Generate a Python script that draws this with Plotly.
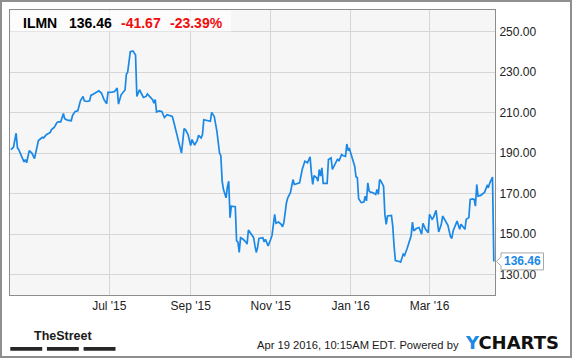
import plotly.graph_objects as go

ticker = "ILMN"
dates = [
    "2015-04-17", "2015-04-19", "2015-04-21", "2015-04-22", "2015-04-23", "2015-04-25", "2015-04-27",
    "2015-04-28", "2015-04-29", "2015-05-01", "2015-05-03", "2015-05-05", "2015-05-06", "2015-05-08",
    "2015-05-11", "2015-05-12", "2015-05-14", "2015-05-17", "2015-05-18", "2015-05-20", "2015-05-22",
    "2015-05-23", "2015-05-25", "2015-05-27", "2015-05-28", "2015-05-30", "2015-06-02", "2015-06-03",
    "2015-06-05", "2015-06-07", "2015-06-09", "2015-06-11", "2015-06-12", "2015-06-14", "2015-06-16",
    "2015-06-17", "2015-06-19", "2015-06-21", "2015-06-23", "2015-06-25", "2015-06-27", "2015-06-29",
    "2015-06-30", "2015-07-03", "2015-07-05", "2015-07-07", "2015-07-08", "2015-07-10", "2015-07-12",
    "2015-07-13", "2015-07-14", "2015-07-15", "2015-07-17", "2015-07-19", "2015-07-21", "2015-07-22",
    "2015-07-24", "2015-07-26", "2015-07-27", "2015-07-29", "2015-07-30", "2015-08-01", "2015-08-03",
    "2015-08-04", "2015-08-05", "2015-08-06", "2015-08-08", "2015-08-10", "2015-08-11", "2015-08-12",
    "2015-08-14", "2015-08-16", "2015-08-18", "2015-08-19", "2015-08-21", "2015-08-22", "2015-08-24",
    "2015-08-25", "2015-08-27", "2015-08-28", "2015-08-30", "2015-09-01", "2015-09-02", "2015-09-04",
    "2015-09-06", "2015-09-07", "2015-09-09", "2015-09-10", "2015-09-11", "2015-09-14", "2015-09-16",
    "2015-09-17", "2015-09-19", "2015-09-21", "2015-09-22", "2015-09-23", "2015-09-24", "2015-09-25",
    "2015-09-26", "2015-09-28", "2015-09-29", "2015-09-30", "2015-10-01", "2015-10-02", "2015-10-05",
    "2015-10-06", "2015-10-07", "2015-10-08", "2015-10-09", "2015-10-11", "2015-10-13", "2015-10-14",
    "2015-10-15", "2015-10-17", "2015-10-19", "2015-10-20", "2015-10-21", "2015-10-22", "2015-10-23",
    "2015-10-26", "2015-10-27", "2015-10-28", "2015-10-30", "2015-11-01", "2015-11-02", "2015-11-04",
    "2015-11-05", "2015-11-07", "2015-11-09", "2015-11-10", "2015-11-11", "2015-11-13", "2015-11-14",
    "2015-11-16", "2015-11-17", "2015-11-18", "2015-11-19", "2015-11-23", "2015-11-25", "2015-11-27",
    "2015-11-29", "2015-12-01", "2015-12-02", "2015-12-03", "2015-12-04", "2015-12-06", "2015-12-07",
    "2015-12-08", "2015-12-09", "2015-12-10", "2015-12-11", "2015-12-14", "2015-12-15", "2015-12-17",
    "2015-12-18", "2015-12-20", "2015-12-22", "2015-12-23", "2015-12-25", "2015-12-26", "2015-12-28",
    "2015-12-29", "2015-12-30", "2015-12-31", "2016-01-02", "2016-01-04", "2016-01-05", "2016-01-06",
    "2016-01-07", "2016-01-09", "2016-01-11", "2016-01-12", "2016-01-13", "2016-01-14", "2016-01-15",
    "2016-01-16", "2016-01-18", "2016-01-20", "2016-01-21", "2016-01-22", "2016-01-23", "2016-01-24",
    "2016-01-26", "2016-01-27", "2016-01-28", "2016-01-29", "2016-02-01", "2016-02-02", "2016-02-03",
    "2016-02-04", "2016-02-07", "2016-02-08", "2016-02-10", "2016-02-11", "2016-02-13", "2016-02-15",
    "2016-02-16", "2016-02-17", "2016-02-18", "2016-02-20", "2016-02-22", "2016-02-24", "2016-02-25",
    "2016-02-27", "2016-02-29", "2016-03-01", "2016-03-03", "2016-03-04", "2016-03-06", "2016-03-08",
    "2016-03-10", "2016-03-11", "2016-03-14", "2016-03-15", "2016-03-17", "2016-03-18", "2016-03-19",
    "2016-03-21", "2016-03-22", "2016-03-24", "2016-03-25", "2016-03-27", "2016-03-28", "2016-03-29",
    "2016-03-31", "2016-04-01", "2016-04-03", "2016-04-04", "2016-04-05", "2016-04-06", "2016-04-07",
    "2016-04-09", "2016-04-11", "2016-04-12", "2016-04-14", "2016-04-15", "2016-04-16", "2016-04-18",
    "2016-04-19",
]
prices = [
    191.7, 192.9, 199.8, 192.6, 191.7, 188.4, 185.7,
    186.8, 185.2, 191.2, 190.0, 187.3, 190.9, 196.2,
    197.8, 197.5, 199.1, 200.2, 201.6, 202.7, 204.9,
    205.4, 205.4, 209.6, 207.0, 206.3, 206.0, 208.6,
    210.6, 210.9, 215.8, 218.0, 215.8, 215.5, 215.8,
    218.5, 219.2, 220.1, 220.8, 219.7, 216.4, 214.4,
    220.0, 220.1, 220.4, 222.1, 214.2, 218.8, 220.4,
    221.2, 229.0, 230.0, 240.1, 240.5, 238.5, 218.0,
    221.3, 219.2, 217.5, 218.0, 219.2, 217.8, 216.4,
    214.7, 216.4, 210.3, 210.9, 210.6, 209.3, 207.6,
    209.0, 208.6, 208.1, 205.7, 200.7, 197.5, 193.3,
    190.0, 202.1, 201.6, 199.1, 193.7, 196.7, 193.9,
    196.2, 198.8, 197.5, 199.0, 206.5, 206.2, 205.7,
    210.1, 208.1, 200.7, 193.3, 190.0, 188.7, 176.1,
    172.0, 167.9, 173.3, 176.1, 158.1, 163.8, 163.5,
    146.6, 146.1, 140.9, 148.2, 147.4, 146.1, 145.0,
    152.0, 149.9, 148.2, 144.1, 140.9, 143.3, 147.8,
    148.2, 146.1, 147.4, 144.1, 147.4, 149.3, 159.7,
    155.3, 155.9, 154.8, 153.6, 155.6, 165.5, 167.9,
    170.4, 174.5, 176.9, 174.5, 175.3, 181.9, 186.0,
    185.2, 188.1, 180.2, 174.5, 178.9, 177.8, 176.1,
    181.9, 178.6, 182.7, 175.0, 175.0, 186.8, 187.6,
    181.9, 184.3, 187.1, 186.0, 189.3, 188.8, 188.4,
    194.5, 191.7, 192.1, 187.6, 183.5, 178.3, 177.8,
    167.4, 165.5, 165.8, 168.7, 166.3, 175.3, 171.2,
    170.7, 170.4, 169.6, 172.0, 169.6, 176.9, 176.1,
    173.6, 159.7, 154.8, 158.9, 159.2, 153.9, 144.1,
    136.9, 136.4, 136.1, 140.1, 139.4, 143.0, 147.4,
    149.1, 155.9, 151.5, 152.7, 153.2, 149.9, 155.3,
    152.3, 150.7, 159.7, 157.3, 158.1, 161.7, 151.0,
    154.8, 158.9, 155.9, 154.3, 148.7, 147.8, 151.5,
    155.3, 156.4, 152.3, 154.8, 153.2, 152.3, 157.3,
    158.1, 167.1, 167.4, 167.1, 163.8, 174.5, 168.7,
    169.1, 170.1, 170.7, 174.0, 173.3, 175.3, 178.13,
    136.46,
]
x_tick_dates = ["2015-07-01", "2015-09-01", "2015-11-01", "2016-01-01", "2016-03-01"]
x_tick_labels = ["Jul '15", "Sep '15", "Nov '15", "Jan '16", "Mar '16"]
y_tick_values = [130, 150, 170, 190, 210, 230, 250]
timestamp_text = "Apr 19 2016, 10:15AM EDT. Powered by"

last = prices[-1]
change = last - prices[-2]
pct = change / prices[-2] * 100

W, H = 575, 358
ML, MR, MT, MB = 10, 80, 10, 63
PW, PH = W - ML - MR, H - MT - MB


def px(x):
    return (x - ML) / PW


def py(y):
    return (H - MB - y) / PH


FONT = "Liberation Sans, Arial, sans-serif"
BLUE = "#1a88e6"

fig = go.Figure()
fig.add_trace(go.Scatter(x=dates, y=prices, mode="lines",
                         line=dict(color=BLUE, width=1.7), hoverinfo="skip",
                         showlegend=False))

shapes = [
    # outer frame
    dict(type="rect", xref="paper", yref="paper", x0=px(1), x1=px(571), y0=py(357), y1=py(1),
         line=dict(color="#8f8f8f", width=2), layer="above"),
    # header box
    dict(type="rect", xref="paper", yref="paper", x0=px(10.5), x1=px(231), y0=py(31.5), y1=py(10.5),
         fillcolor="rgba(255,255,255,0.7)", line=dict(width=0), layer="above"),
    # last value bubble
    dict(type="path", xref="paper", yref="y", xsizemode="pixel", ysizemode="pixel",
         xanchor=1, yanchor=last,
         path="M 6,8.5 L 48.5,8.5 L 48.5,-8.5 L 6,-8.5 L 6,-4.5 L 1.5,0 L 6,4.5 Z",
         fillcolor="white", line=dict(color="#a8a8a8", width=1), layer="above"),
]
# TheStreet bars
for a, b in [(10.3, 42.2), (46.9, 78.8), (83.6, 115.5)]:
    shapes.append(dict(type="rect", xref="paper", yref="paper", x0=px(a), x1=px(b),
                       y0=py(350.7), y1=py(347), fillcolor="#262626", line=dict(width=0),
                       layer="above"))

annotations = []
hdr = [(ticker, 21.3, "black"), (f"{last:.2f}", 67.3, "black"),
       (f"{change:.2f}", 118.5, "#f20d0d"), (f"{pct:.2f}%", 167.5, "#f20d0d")]
for txt, xx, col in hdr:
    annotations.append(dict(text=f"<b>{txt}</b>", xref="paper", yref="paper", x=px(xx), y=py(23.3),
                            xanchor="left", yanchor="middle", showarrow=False,
                            font=dict(family=FONT, size=14, color=col)))
annotations.append(dict(text=f"<b>{last:.2f}</b>", xref="paper", yref="y", x=1, xshift=27.3,
                        y=last, xanchor="center", yanchor="middle", showarrow=False,
                        font=dict(family=FONT, size=12, color=BLUE)))
annotations.append(dict(text="<b>TheStreet</b>", xref="paper", yref="paper", x=px(63), y=py(335.5),
                        xanchor="center", yanchor="middle", showarrow=False,
                        font=dict(family=FONT, size=12.5, color="#1a1a1a")))
annotations.append(dict(text=timestamp_text, xref="paper", yref="paper", x=px(460), y=py(344.7),
                        xanchor="right", yanchor="middle", showarrow=False, borderpad=0,
                        font=dict(family=FONT, size=11.2, color="#1a1a1a")))
annotations.append(dict(text=f"<b><span style='color:{BLUE}'>Y</span>CHARTS</b>", xref="paper",
                        yref="paper", x=px(464), y=py(342), xanchor="left", yanchor="middle",
                        showarrow=False, borderpad=0,
                        font=dict(family="DejaVu Sans, sans-serif", size=18, color="#111111")))

fig.update_layout(
    width=W, height=H,
    margin=dict(l=ML, r=MR, t=MT, b=MB, pad=0),
    paper_bgcolor="white", plot_bgcolor="#f6f6f6",
    shapes=shapes, annotations=annotations,
    showlegend=False,
    xaxis=dict(type="date", range=["2015-04-16 08:00", "2016-04-19 21:50"],
               tickmode="array", tickvals=x_tick_dates, ticktext=x_tick_labels,
               showgrid=True, gridcolor="#d6d6d6", gridwidth=1,
               showline=True, linecolor="#8c8c8c", linewidth=1, mirror=True,
               ticks="", zeroline=False,
               tickfont=dict(family=FONT, size=12, color="#222222")),
    yaxis=dict(range=[119.86, 260.72], side="right", tickmode="array", tickvals=y_tick_values,
               tickformat=".2f", showgrid=True, gridcolor="#d6d6d6", gridwidth=1,
               showline=True, linecolor="#8c8c8c", linewidth=1, mirror=True,
               ticks="", zeroline=False, ticklabelstandoff=1,
               tickfont=dict(family=FONT, size=12, color="#222222")),
)

fig.write_html("out.html")
